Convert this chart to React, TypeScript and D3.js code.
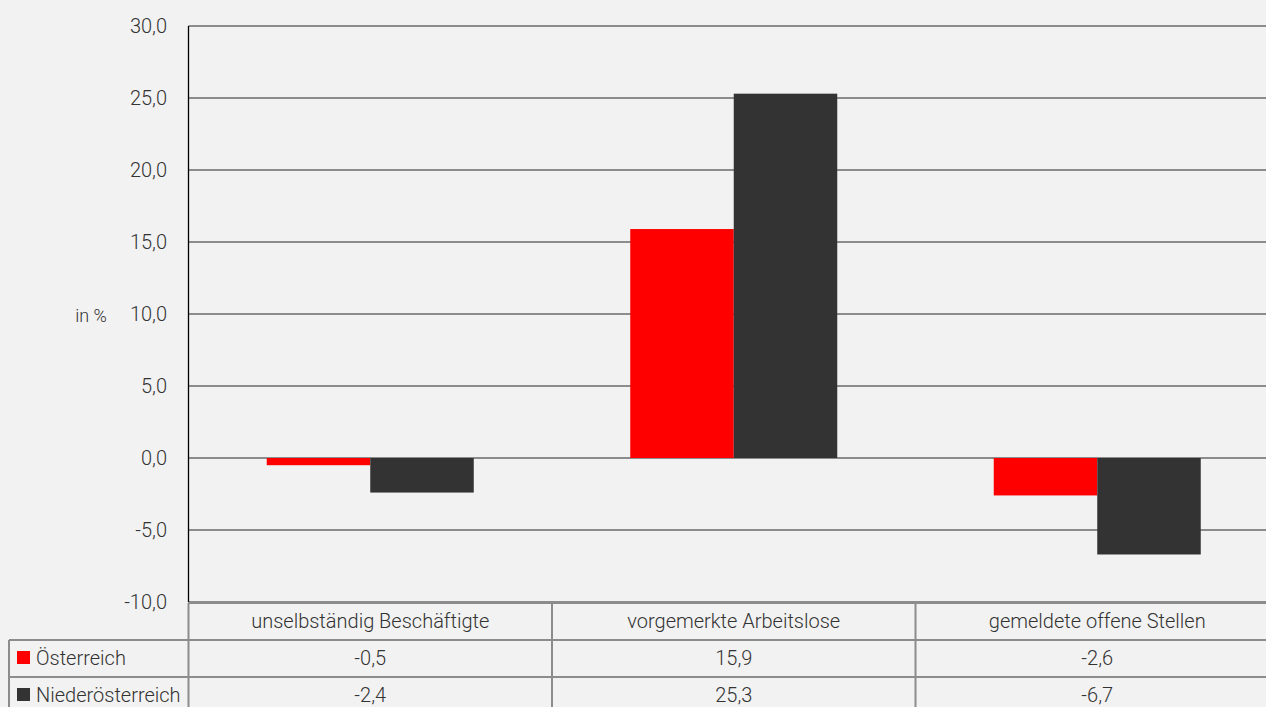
import React from "react";
import * as d3 from "d3";

const categories = ["unselbständig Beschäftigte", "vorgemerkte Arbeitslose", "gemeldete offene Stellen"];
const seriesNames = ["Österreich", "Niederösterreich"];
const oesterreich = [-0.5, 15.9, -2.6];
const niederoesterreich = [-2.4, 25.3, -6.7];
const yTicks = [-10, -5, 0, 5, 10, 15, 20, 25, 30];
const colors = ["#ff0000", "#333333"];

const W = 1266;
const H = 707;
const FONT = "Roboto, 'Open Sans', sans-serif";
const FS = 20;

export default function App() {
  const left = 188.5;
  const right = 1279;
  const top = 26;
  const bottom = 602;
  const y = d3.scaleLinear().domain([-10, 30]).range([bottom, top]);
  const x = d3.scaleBand<string>().domain(categories).range([left, right]).padding(0);
  const xs = d3.scaleBand<string>().domain(seriesNames).range([0, x.bandwidth()]).paddingInner(0).paddingOuter(0.756);
  const fmt = (v: number) => d3.format(".1f")(v).replace(".", ",").replace("−", "-");
  const data = [oesterreich, niederoesterreich];
  const rowY = [603, 640, 677, 714];
  const tableColor = "#8c8c8c";
  const textProps = { fontFamily: FONT, fontWeight: 300, fontSize: FS, fill: "#333" };
  return (
    <svg width={W} height={H} style={{ position: "absolute", left: 0, top: 0, background: "#f2f2f2" }}>
      <rect x={0} y={0} width={W} height={H} fill="#f2f2f2" />
      {yTicks.map((t) => (
        <g key={t}>
          <line x1={left} x2={right} y1={y(t)} y2={y(t)} stroke="#6a6a6a" strokeWidth={1.3} />
          <text x={167} y={y(t)} dy="0.36em" textAnchor="end" {...textProps}>
            {fmt(t)}
          </text>
        </g>
      ))}
      <text x={91} y={316} dy="0.36em" textAnchor="middle" {...textProps} fontSize={18}>
        in %
      </text>
      {data.map((vals, si) =>
        categories.map((c, ci) => {
          const v = vals[ci];
          const bx = (x(c) as number) + (xs(seriesNames[si]) as number);
          return (
            <rect
              key={si + "-" + ci}
              x={bx}
              width={xs.bandwidth()}
              y={Math.min(y(v), y(0))}
              height={Math.abs(y(v) - y(0))}
              fill={colors[si]}
            />
          );
        })
      )}
      <line x1={left} x2={left} y1={top} y2={bottom} stroke="#000" strokeWidth={1.3} />
      {/* table */}
      <line x1={left} x2={right} y1={rowY[0]} y2={rowY[0]} stroke={tableColor} strokeWidth={2} />
      <line x1={9} x2={right} y1={rowY[1]} y2={rowY[1]} stroke={tableColor} strokeWidth={2} />
      <line x1={9} x2={right} y1={rowY[2]} y2={rowY[2]} stroke={tableColor} strokeWidth={2} />
      <line x1={9} x2={9} y1={rowY[1]} y2={H} stroke={tableColor} strokeWidth={2} />
      <line x1={left} x2={left} y1={rowY[0]} y2={H} stroke={tableColor} strokeWidth={2} />
      {categories.map((c) => (
        <line key={c} x1={(x(c) as number) + x.bandwidth()} x2={(x(c) as number) + x.bandwidth()} y1={rowY[0]} y2={H} stroke={tableColor} strokeWidth={2} />
      ))}
      {categories.map((c) => (
        <text key={c} x={(x(c) as number) + x.bandwidth() / 2} y={621} dy="0.36em" textAnchor="middle" {...textProps}>
          {c}
        </text>
      ))}
      {data.map((vals, si) => (
        <g key={si}>
          <rect x={17} y={651 + si * 37} width={13} height={13} fill={colors[si]} />
          <text x={36} y={658 + si * 37} dy="0.36em" {...textProps}>
            {seriesNames[si]}
          </text>
          {categories.map((c, ci) => (
            <text key={c} x={(x(c) as number) + x.bandwidth() / 2} y={658 + si * 37} dy="0.36em" textAnchor="middle" {...textProps}>
              {fmt(vals[ci])}
            </text>
          ))}
        </g>
      ))}
    </svg>
  );
}
